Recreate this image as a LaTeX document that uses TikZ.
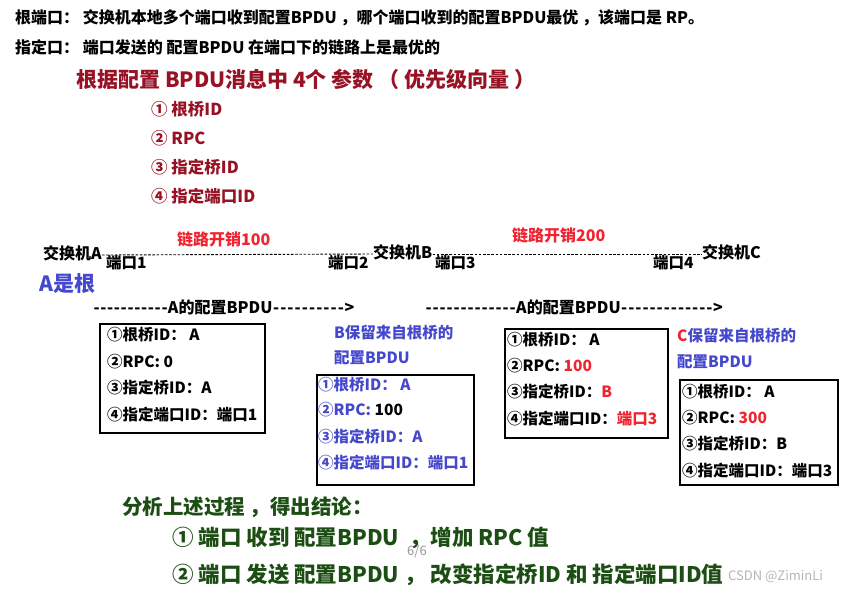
\documentclass[tikz,border=0pt]{standalone}
\usepackage{fontspec}
\setmainfont{Noto Sans CJK SC}
\definecolor{dred}{RGB}{150,18,36}
\definecolor{bred}{RGB}{240,36,48}
\definecolor{bblue}{RGB}{68,72,204}
\definecolor{dgreen}{RGB}{28,78,20}
\definecolor{wgray}{RGB}{150,150,150}
\newcommand{\dashrun}[2]{\foreach \k in {1,...,#1}{\makebox[#2]{-}}}
\begin{document}
\begin{tikzpicture}[x=1pt,y=-1pt,
  t/.style={anchor=west,inner sep=0pt},
  sz/.style={font=\bfseries\fontsize{#1}{#1}\selectfont},
  frame/.style={draw=black,line width=1.6pt,anchor=north west,inner sep=0pt},
  link/.style={draw=black,line width=0.9pt,dash pattern=on 2.6pt off 1.6pt}]
\useasboundingbox (0,0) rectangle (843,592);
\fill[white] (0,0) rectangle (843,592);
% header
\node[t,sz=16] (top1) at (15,18) {根端口： 交换机本地多个端口收到配置BPDU ，哪个端口收到的配置BPDU最优 ，该端口是 RP。};
\node[t,sz=16] (top2) at (15,47) {指定口： 端口发送的 配置BPDU 在端口下的链路上是最优的};
\node[t,sz=21,text=dred] (title) at (76,79) {根据配置 BPDU消息中 4个 参数 （ 优先级向量 ）};
\node[t,sz=16.5,text=dred] (p1) at (151,109) {① 根桥ID};
\node[t,sz=16.5,text=dred] (p2) at (151,138) {② RPC};
\node[t,sz=16.5,text=dred] (p3) at (151,167) {③ 指定桥ID};
\node[t,sz=16.5,text=dred] (p4) at (151,196) {④ 指定端口ID};
% topology
\node[t,sz=16,text=bred] (cost1) at (177,239) {链路开销100};
\node[t,sz=16,text=bred] (cost2) at (512,235) {链路开销200};
\node[t,sz=16] (swA) at (43,253) {交换机A};
\node[t,sz=16] (swB) at (373,252) {交换机B};
\node[t,sz=16] (swC) at (702,252) {交换机C};
\node[t,sz=15.5] (port1) at (106,263) {端口1};
\node[t,sz=15.5] (port2) at (328,263) {端口2};
\node[t,sz=15.5] (port3) at (435,263) {端口3};
\node[t,sz=15.5] (port4) at (653,263) {端口4};
\draw[link] ([yshift=-2pt]swA.east) -- ([yshift=-2pt]swB.west);
\draw[link] ([yshift=-2pt]swB.east) -- ([yshift=-2pt]swC.west);
\node[t,sz=21,text=bblue] (rootA) at (39,284) {A是根};
\node[t,sz=16] (arr1) at (93,307) {\dashrun{11}{6.8pt}A的配置BPDU\dashrun{10}{7.2pt}>};
\node[t,sz=16] (arr2) at (425,307) {\dashrun{13}{7pt}A的配置BPDU\dashrun{13}{7.1pt}>};
% box A
\node[frame,minimum width=165pt,minimum height=109pt] (boxA) at (99,323) {};
\node[t,sz=15.5] (a1) at (107,335) {①根桥ID：\ A};
\node[t,sz=15.5] (a2) at (107,362) {②RPC: 0};
\node[t,sz=15.5] (a3) at (107,388) {③指定桥ID：A};
\node[t,sz=15.5] (a4) at (107,415) {④指定端口ID：端口1};
% box B
\node[t,sz=15.5,text=bblue] (bl1) at (334,333) {B保留来自根桥的};
\node[t,sz=15.5,text=bblue] (bl2) at (334,358) {配置BPDU};
\node[frame,minimum width=157pt,minimum height=110pt] (boxB) at (316,374) {};
\node[t,sz=15.5,text=bblue] (b1) at (318,385) {①根桥ID：\ A};
\node[t,sz=15.5,text=bblue] (b2) at (318,410) {②RPC: \textcolor{black}{100}};
\node[t,sz=15.5,text=bblue] (b3) at (318,437) {③指定桥ID：A};
\node[t,sz=15.5,text=bblue] (b4) at (318,463) {④指定端口ID：端口1};
% box B sends
\node[frame,minimum width=163pt,minimum height=109pt] (boxS) at (504,328) {};
\node[t,sz=15.5] (s1) at (507,340) {①根桥ID：\ A};
\node[t,sz=15.5] (s2) at (507,366) {②RPC: \textcolor{bred}{100}};
\node[t,sz=15.5] (s3) at (507,392) {③指定桥ID：\textcolor{bred}{B}};
\node[t,sz=15.5] (s4) at (507,419) {④指定端口ID：\textcolor{bred}{端口3}};
% box C
\node[t,sz=15.5,text=bblue] (cl1) at (677,336) {\textcolor{bred}{C}保留来自根桥的};
\node[t,sz=15.5,text=bblue] (cl2) at (677,362) {配置BPDU};
\node[frame,minimum width=158pt,minimum height=105pt] (boxC) at (679,379) {};
\node[t,sz=15.5] (c1) at (682,392) {①根桥ID：\ A};
\node[t,sz=15.5] (c2) at (682,418) {②RPC: \textcolor{bred}{300}};
\node[t,sz=15.5] (c3) at (682,444) {③指定桥ID：B};
\node[t,sz=15.5] (c4) at (682,471) {④指定端口ID：端口3};
% conclusion
\node[t,sz=20.5,text=dgreen] (concl) at (122,507) {分析上述过程 ，得出结论：};
\node[t,sz=21.5,text=dgreen] (con1) at (172,538) {① 端口 收到 配置BPDU\ \ ，增加 RPC 值};
\node[t,sz=21.5,text=dgreen] (con2) at (172,575) {② 端口 发送 配置BPDU ， 改变指定桥ID 和 指定端口ID值};
\node[t,font=\fontsize{13}{13}\selectfont,text=wgray] (page) at (407,551) {6/6};
\node[t,font=\fontsize{13}{13}\selectfont,text=wgray!70] (csdn) at (728,577) {CSDN @ZiminLi};
\end{tikzpicture}
\end{document}
